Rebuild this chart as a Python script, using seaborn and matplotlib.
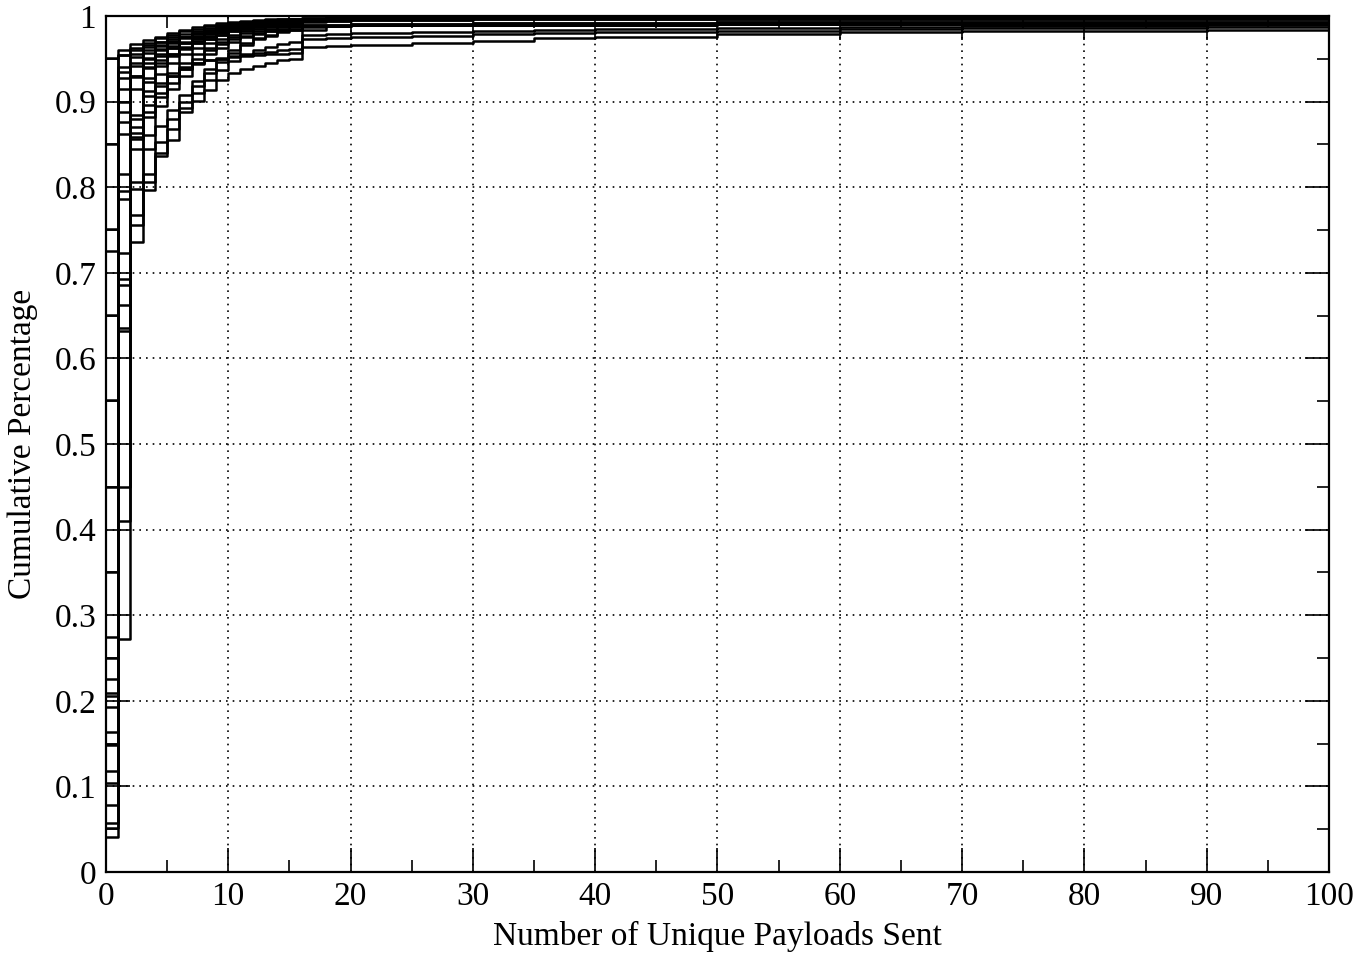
import matplotlib
matplotlib.use("Agg")
import matplotlib.pyplot as plt
import pandas as pd
import seaborn as sns
from matplotlib.ticker import MultipleLocator, FormatStrFormatter

# --- data: step CDFs, values at x = 0..16, then sparse tail points ---
head_x = list(range(17))
tail_x = [18, 20, 25, 30, 35, 40, 50, 60, 70, 80, 90, 100]

h01 = [0.951, 0.954, 0.960, 0.966, 0.970, 0.973, 0.976, 0.979, 0.982, 0.985, 0.987, 0.989, 0.990, 0.991, 0.992, 0.993, 0.995]
h02 = [0.851, 0.940, 0.952, 0.960, 0.966, 0.970, 0.974, 0.977, 0.980, 0.983, 0.986, 0.988, 0.989, 0.990, 0.991, 0.992, 0.996]
h03 = [0.751, 0.927, 0.941, 0.951, 0.960, 0.965, 0.969, 0.973, 0.977, 0.981, 0.985, 0.987, 0.988, 0.989, 0.990, 0.991, 0.994]
h04 = [0.7255, 0.876, 0.929, 0.939, 0.948, 0.955, 0.962, 0.968, 0.973, 0.978, 0.982, 0.985, 0.987, 0.988, 0.989, 0.990, 0.995]
h05 = [0.651, 0.815, 0.863, 0.896, 0.918, 0.930, 0.938, 0.944, 0.948, 0.951, 0.953, 0.955, 0.957, 0.958, 0.960, 0.961, 0.978]
h06 = [0.551, 0.795, 0.859, 0.906, 0.922, 0.933, 0.940, 0.945, 0.948, 0.950, 0.952, 0.953, 0.954, 0.955, 0.956, 0.957, 0.973]
h07 = [0.450, 0.450, 0.870, 0.912, 0.932, 0.945, 0.955, 0.962, 0.968, 0.973, 0.978, 0.982, 0.985, 0.987, 0.988, 0.989, 0.993]
h08 = [0.350, 0.723, 0.884, 0.923, 0.942, 0.953, 0.961, 0.968, 0.973, 0.978, 0.982, 0.985, 0.987, 0.988, 0.989, 0.990, 0.995]
h09 = [0.274, 0.693, 0.856, 0.888, 0.910, 0.930, 0.945, 0.955, 0.963, 0.970, 0.976, 0.980, 0.983, 0.985, 0.987, 0.988, 0.990]
h10 = [0.250, 0.686, 0.845, 0.882, 0.905, 0.922, 0.938, 0.950, 0.960, 0.967, 0.973, 0.977, 0.980, 0.982, 0.984, 0.985, 0.988]
h11 = [0.226, 0.662, 0.806, 0.861, 0.895, 0.915, 0.930, 0.945, 0.955, 0.963, 0.970, 0.975, 0.979, 0.982, 0.985, 0.987, 0.990]
h12 = [0.209, 0.636, 0.798, 0.845, 0.872, 0.890, 0.908, 0.924, 0.938, 0.950, 0.960, 0.968, 0.974, 0.978, 0.982, 0.984, 0.988]
h13 = [0.205, 0.632, 0.767, 0.815, 0.853, 0.880, 0.900, 0.918, 0.933, 0.946, 0.957, 0.966, 0.973, 0.977, 0.981, 0.984, 0.987]
h14 = [0.193, 0.786, 0.880, 0.927, 0.945, 0.956, 0.964, 0.971, 0.976, 0.980, 0.984, 0.987, 0.989, 0.990, 0.991, 0.992, 0.996]
h15 = [0.164, 0.410, 0.756, 0.806, 0.840, 0.868, 0.892, 0.910, 0.925, 0.937, 0.947, 0.954, 0.960, 0.964, 0.967, 0.970, 0.984]
h16 = [0.150, 0.862, 0.915, 0.940, 0.953, 0.962, 0.970, 0.976, 0.981, 0.985, 0.988, 0.990, 0.991, 0.992, 0.993, 0.994, 0.997]
h17 = [0.148, 0.888, 0.930, 0.950, 0.961, 0.969, 0.975, 0.980, 0.984, 0.987, 0.989, 0.991, 0.992, 0.993, 0.994, 0.995, 0.997]
h18 = [0.118, 0.900, 0.930, 0.945, 0.955, 0.963, 0.969, 0.974, 0.979, 0.983, 0.986, 0.988, 0.990, 0.991, 0.992, 0.993, 0.996]
h19 = [0.104, 0.915, 0.945, 0.957, 0.965, 0.971, 0.976, 0.980, 0.984, 0.987, 0.989, 0.991, 0.992, 0.993, 0.994, 0.995, 0.997]
h20 = [0.078, 0.935, 0.955, 0.964, 0.970, 0.975, 0.979, 0.983, 0.986, 0.989, 0.991, 0.992, 0.993, 0.994, 0.995, 0.996, 0.997]
h21 = [0.057, 0.954, 0.963, 0.969, 0.974, 0.978, 0.982, 0.985, 0.988, 0.990, 0.992, 0.993, 0.994, 0.995, 0.996, 0.997, 0.998]
h22 = [0.051, 0.960, 0.967, 0.972, 0.976, 0.980, 0.984, 0.987, 0.990, 0.992, 0.993, 0.994, 0.995, 0.996, 0.997, 0.997, 0.998]
h23 = [0.0405, 0.272, 0.736, 0.797, 0.836, 0.855, 0.888, 0.901, 0.914, 0.925, 0.933, 0.938, 0.942, 0.945, 0.948, 0.950, 0.964]

tail_a = [0.965, 0.966, 0.969, 0.971, 0.974, 0.976, 0.979, 0.981, 0.982, 0.983, 0.984, 0.985]
tail_c = [0.974, 0.975, 0.977, 0.979, 0.980, 0.981, 0.983, 0.985, 0.986, 0.986, 0.987, 0.9875]
tail_d = [0.979, 0.980, 0.981, 0.983, 0.984, 0.985, 0.986, 0.987, 0.988, 0.988, 0.989, 0.9895]
tail_e = [0.988, 0.989, 0.989, 0.990, 0.990, 0.990, 0.991, 0.991, 0.991, 0.991, 0.9915, 0.9915]
tail_f = [0.990, 0.991, 0.991, 0.992, 0.992, 0.992, 0.993, 0.993, 0.993, 0.9935, 0.9935, 0.9935]
tail_g = [0.994, 0.995, 0.995, 0.996, 0.996, 0.996, 0.997, 0.997, 0.997, 0.997, 0.997, 0.997]
tail_h = [0.996, 0.997, 0.997, 0.998, 0.998, 0.998, 0.998, 0.999, 0.999, 0.999, 0.999, 0.999]
tail_top = [0.998, 0.998, 0.999, 0.999, 0.999, 1.0, 1.0, 1.0, 1.0, 1.0, 1.0, 1.0]

curves = [
    (h01, tail_h), (h02, tail_top), (h03, tail_g), (h04, tail_h), (h05, tail_d),
    (h06, tail_c), (h07, tail_g), (h08, tail_top), (h09, tail_f), (h10, tail_e),
    (h11, tail_f), (h12, tail_e), (h13, tail_e), (h14, tail_top), (h15, tail_e),
    (h16, tail_top), (h17, tail_top), (h18, tail_h), (h19, tail_top), (h20, tail_top),
    (h21, tail_top), (h22, tail_top), (h23, tail_a),
]

rows = []
for i, (head, tail) in enumerate(curves):
    for x, y in zip(head_x + tail_x, head + tail):
        rows.append({"curve": i, "x": x, "y": y})
df = pd.DataFrame(rows)

# --- plot ---
sns.set_theme(style="ticks")
plt.rcParams["font.family"] = ["Liberation Serif", "DejaVu Serif"]
plt.rcParams["font.size"] = 24

fig = plt.figure(figsize=(13.6, 9.56), dpi=100)
ax = fig.add_axes([0.0779, 0.0879, 0.8993, 0.8954])

sns.lineplot(data=df, x="x", y="y", units="curve", estimator=None,
             color="black", lw=1.8, drawstyle="steps-post", ax=ax, legend=False)

ax.set_xlim(0, 100)
ax.set_ylim(0, 1)
ax.xaxis.set_major_locator(MultipleLocator(10))
ax.xaxis.set_minor_locator(MultipleLocator(5))
ax.yaxis.set_major_locator(MultipleLocator(0.1))
ax.yaxis.set_minor_locator(MultipleLocator(0.05))
ax.yaxis.set_major_formatter(FormatStrFormatter("%g"))
ax.xaxis.set_major_formatter(FormatStrFormatter("%g"))
ax.tick_params(which="both", direction="in", top=True, right=True,
               color="black", width=1.2, labelsize=24, labelcolor="black")
ax.tick_params(which="major", length=17, pad=7)
ax.tick_params(which="minor", length=8.5)
ax.grid(which="major", color="black", linestyle=(0, (1, 3)), lw=1.2)
for s in ax.spines.values():
    s.set_color("black")
    s.set_linewidth(1.6)

ax.set_xlabel("Number of Unique Payloads Sent", fontsize=24, color="black", labelpad=6)
ax.set_ylabel("Cumulative Percentage", fontsize=24, color="black", labelpad=12)

fig.savefig("out.png", dpi=100)
